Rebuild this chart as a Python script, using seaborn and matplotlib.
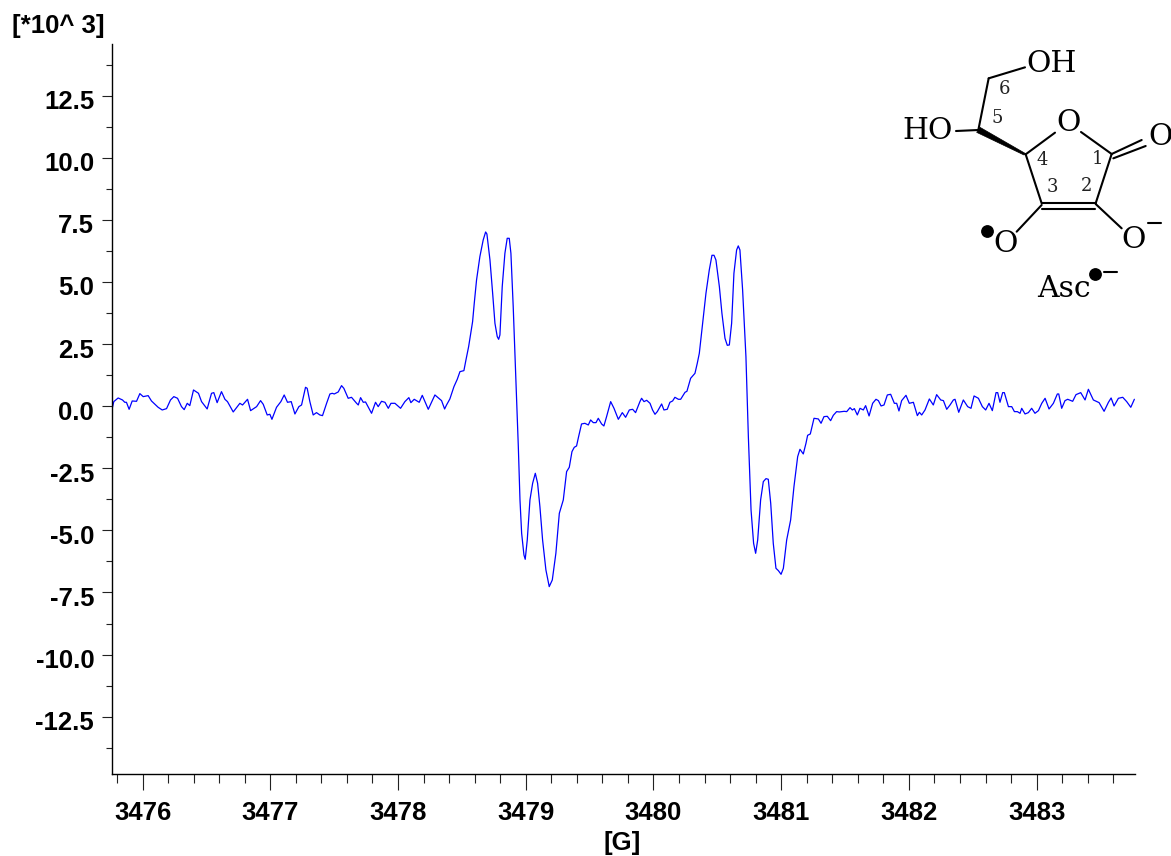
import numpy as np
import pandas as pd
import seaborn as sns
import matplotlib.pyplot as plt
from matplotlib.ticker import FixedLocator, MultipleLocator
from matplotlib.transforms import ScaledTranslation

# EPR spectrum: field in G, signal in units of 10^3
field_noise_left = [
    3475.760, 3475.775, 3475.809, 3475.843, 3475.861, 3475.874, 3475.895, 3475.919, 3475.953, 3475.979,
    3476.005, 3476.044, 3476.070, 3476.122, 3476.154, 3476.188, 3476.219, 3476.245, 3476.274, 3476.305,
    3476.326, 3476.350, 3476.370, 3476.399, 3476.438, 3476.462, 3476.506, 3476.540, 3476.558, 3476.584,
    3476.618, 3476.645, 3476.665, 3476.710, 3476.762, 3476.783, 3476.822, 3476.846, 3476.893, 3476.924,
    3476.945, 3476.976, 3476.997, 3477.013, 3477.049, 3477.083, 3477.109, 3477.135, 3477.164, 3477.193,
    3477.224, 3477.245, 3477.276, 3477.289, 3477.310, 3477.336, 3477.362, 3477.388, 3477.409, 3477.441,
    3477.467, 3477.485, 3477.501, 3477.532, 3477.558, 3477.576, 3477.610, 3477.636, 3477.676, 3477.689,
    3477.707, 3477.728, 3477.746, 3477.793, 3477.824, 3477.845, 3477.871, 3477.898, 3477.924, 3477.945,
    3477.976, 3478.020, 3478.054, 3478.085, 3478.101, 3478.127, 3478.166, 3478.190, 3478.237, 3478.289,
]
signal_noise_left = [
    -0.153, 0.183, 0.330, 0.250, 0.156, 0.156, -0.126, 0.209, 0.196, 0.505,
    0.384, 0.424, 0.209, -0.045, -0.153, -0.099, 0.250, 0.384, 0.317, -0.019,
    -0.139, 0.115, 0.022, 0.652, 0.518, 0.183, -0.112, 0.518, 0.545, 0.142,
    0.585, 0.277, 0.183, -0.233, 0.115, 0.048, 0.277, -0.180, -0.019, 0.223,
    0.075, -0.354, -0.327, -0.529, -0.045, 0.183, 0.451, 0.156, 0.183, -0.314,
    -0.019, 0.048, 0.760, 0.719, 0.183, -0.354, -0.260, -0.354, -0.381, 0.115,
    0.491, 0.518, 0.491, 0.572, 0.827, 0.719, 0.317, 0.357, 0.115, 0.048,
    0.344, 0.156, 0.169, -0.287, 0.156, -0.019, 0.196, 0.156, -0.086, 0.115,
    0.115, -0.086, 0.183, 0.344, 0.142, 0.277, 0.156, 0.437, -0.126, 0.451,
]
field_line_one = [
    3478.328, 3478.341, 3478.365, 3478.380, 3478.406, 3478.438, 3478.464, 3478.485, 3478.516, 3478.532,
    3478.553, 3478.584, 3478.597, 3478.615, 3478.641, 3478.667, 3478.686, 3478.696, 3478.720, 3478.741,
    3478.759, 3478.777, 3478.788, 3478.798, 3478.816, 3478.837, 3478.855, 3478.871, 3478.884, 3478.902,
    3478.923, 3478.942, 3478.955, 3478.968, 3478.986, 3478.996, 3479.012, 3479.033, 3479.054, 3479.075,
    3479.093, 3479.111, 3479.132, 3479.158, 3479.184, 3479.208, 3479.236, 3479.263, 3479.294, 3479.320,
    3479.341, 3479.362, 3479.380, 3479.398, 3479.414, 3479.437, 3479.463, 3479.490, 3479.508, 3479.529,
    3479.550, 3479.568, 3479.594, 3479.612, 3479.633, 3479.665, 3479.691, 3479.725, 3479.756, 3479.782,
    3479.811, 3479.837, 3479.860,
]
signal_line_one = [
    0.277, 0.223, -0.113, 0.048, 0.290, 0.786, 1.082, 1.390, 1.431, 1.860,
    2.397, 3.403, 4.141, 5.081, 6.020, 6.691, 7.013, 6.932, 5.886, 4.544,
    3.336, 2.799, 2.692, 2.867, 4.812, 6.154, 6.758, 6.758, 6.154, 4.007,
    1.055, -1.629, -3.776, -5.118, -5.990, -6.165, -5.386, -3.776, -3.105, -2.702,
    -3.105, -4.044, -5.386, -6.594, -7.265, -6.997, -5.923, -4.313, -3.776, -2.635,
    -2.461, -1.830, -1.656, -1.602, -1.226, -0.716, -0.690, -0.757, -0.555, -0.663,
    -0.663, -0.488, -0.716, -0.797, -0.421, 0.183, -0.086, -0.529, -0.260, -0.448,
    -0.153, -0.126, -0.260,
]
field_line_two = [
    3479.894, 3479.907, 3479.926, 3479.947, 3479.973, 3479.993, 3480.012, 3480.030, 3480.064, 3480.082,
    3480.108, 3480.129, 3480.150, 3480.168, 3480.195, 3480.213, 3480.247, 3480.262, 3480.291, 3480.325,
    3480.343, 3480.359, 3480.382, 3480.411, 3480.437, 3480.458, 3480.474, 3480.489, 3480.516, 3480.536,
    3480.560, 3480.578, 3480.594, 3480.612, 3480.630, 3480.651, 3480.664, 3480.677, 3480.698, 3480.724,
    3480.743, 3480.764, 3480.784, 3480.800, 3480.816, 3480.839, 3480.860, 3480.881, 3480.899, 3480.918,
    3480.938, 3480.959, 3480.978, 3480.999, 3481.017, 3481.043, 3481.074, 3481.100, 3481.129, 3481.147,
    3481.173, 3481.194, 3481.207, 3481.228, 3481.257, 3481.291, 3481.312, 3481.335, 3481.361, 3481.387,
    3481.408, 3481.434, 3481.455,
]
signal_line_two = [
    0.183, 0.317, 0.183, 0.236, 0.115, -0.153, -0.327, -0.220, 0.089, -0.153,
    -0.126, 0.156, 0.210, 0.357, 0.277, 0.277, 0.558, 0.599, 1.122, 1.323,
    1.726, 2.128, 3.202, 4.544, 5.483, 6.074, 6.074, 5.886, 4.812, 3.739,
    2.732, 2.450, 2.464, 3.336, 5.349, 6.288, 6.452, 6.288, 4.678, 1.994,
    -1.227, -4.179, -5.520, -5.923, -5.386, -3.776, -3.038, -2.917, -2.944, -3.910,
    -5.520, -6.527, -6.621, -6.769, -6.527, -5.386, -4.581, -3.239, -2.032, -1.736,
    -1.924, -1.495, -1.173, -1.119, -0.488, -0.515, -0.689, -0.421, -0.408, -0.583,
    -0.368, -0.220, -0.233,
]
field_noise_right = [
    3481.494, 3481.513, 3481.539, 3481.557, 3481.573, 3481.596, 3481.617, 3481.643, 3481.661, 3481.688,
    3481.716, 3481.742, 3481.761, 3481.782, 3481.805, 3481.831, 3481.857, 3481.886, 3481.904, 3481.922,
    3481.943, 3481.977, 3482.003, 3482.035, 3482.066, 3482.082, 3482.100, 3482.126, 3482.160, 3482.191,
    3482.217, 3482.249, 3482.270, 3482.296, 3482.322, 3482.348, 3482.361, 3482.390, 3482.426, 3482.460,
    3482.486, 3482.510, 3482.544, 3482.575, 3482.601, 3482.627, 3482.653, 3482.682, 3482.695, 3482.713,
    3482.734, 3482.747, 3482.779, 3482.805, 3482.826, 3482.849, 3482.870, 3482.883, 3482.909, 3482.935,
    3482.961, 3482.987, 3483.014, 3483.040, 3483.066, 3483.097, 3483.131, 3483.162, 3483.173, 3483.196,
    3483.222, 3483.243, 3483.282, 3483.308, 3483.345, 3483.379, 3483.405, 3483.444, 3483.489, 3483.528,
    3483.562, 3483.583, 3483.606, 3483.640, 3483.674, 3483.705, 3483.737, 3483.765,
]
signal_noise_right = [
    -0.207, -0.220, -0.059, -0.153, -0.099, -0.354, -0.086, -0.153, 0.022, -0.394,
    0.115, 0.277, 0.223, 0.008, 0.048, 0.451, 0.478, 0.115, 0.115, -0.193,
    0.223, 0.437, 0.115, 0.156, -0.381, -0.247, -0.354, -0.153, 0.290, 0.048,
    0.464, 0.250, 0.223, -0.126, 0.048, 0.250, 0.277, -0.247, 0.250, -0.019,
    -0.086, 0.411, 0.317, -0.019, -0.153, 0.115, -0.180, 0.545, 0.545, 0.156,
    0.545, 0.545, -0.019, -0.019, -0.220, -0.220, -0.287, -0.086, -0.314, -0.260,
    -0.086, -0.287, -0.180, 0.115, 0.317, -0.113, 0.115, 0.491, 0.491, -0.086,
    0.223, 0.277, 0.196, 0.464, 0.545, 0.250, 0.679, 0.250, 0.142, -0.207,
    0.156, 0.330, 0.008, 0.317, 0.357, 0.183, -0.045, 0.277,
]

x_ticks = [3476, 3477, 3478, 3479, 3480, 3481, 3482, 3483]
y_ticks = [12.5, 10.0, 7.5, 5.0, 2.5, 0.0, -2.5, -5.0, -7.5, -10.0, -12.5]
y_labels = ['12.5', '10.0', '7.5', '5.0', '2.5', '0.0', '-2.5', '-5.0', '-7.5', '-10.0', '-12.5']

sns.set_style('ticks')
plt.rcParams['font.family'] = 'Liberation Sans'
plt.rcParams['font.weight'] = 'bold'
plt.rcParams['text.color'] = 'black'

W, H = 1171, 856
fig = plt.figure(figsize=(W / 100, H / 100), dpi=100)
ax = fig.add_axes([111.5 / W, (H - 774.3) / H, (1135 - 111.5) / W, (774.3 - 44) / H])

df = pd.DataFrame({
    'field': field_noise_left + field_line_one + field_line_two + field_noise_right,
    'signal': signal_noise_left + signal_line_one + signal_line_two + signal_noise_right,
})
sns.lineplot(data=df, x='field', y='signal', ax=ax, color='#0000ff', linewidth=0.9,
             sort=False, estimator=None, errorbar=None)

ax.set_xlim(3475.757, 3483.77)
ax.set_ylim(-14.82, 14.58)
sns.despine(ax=ax)
for side in ['left', 'bottom']:
    ax.spines[side].set_linewidth(1.0)
    ax.spines[side].set_color('black')

ax.xaxis.set_major_locator(FixedLocator(x_ticks))
ax.xaxis.set_minor_locator(MultipleLocator(0.2))
ax.yaxis.set_major_locator(FixedLocator(y_ticks))
ax.yaxis.set_minor_locator(MultipleLocator(1.25))
ax.set_xticklabels([str(v) for v in x_ticks])
ax.set_yticklabels(y_labels)
ax.tick_params(axis='x', which='major', length=11.5, width=0.8, pad=8, labelsize=18.5, color='#222222', labelcolor='black')
ax.tick_params(axis='x', which='minor', length=6.2, width=0.8, color='#222222')
ax.tick_params(axis='y', which='major', length=7.5, width=0.8, pad=5, labelsize=18.5, color='#222222', labelcolor='black')
ax.tick_params(axis='y', which='minor', length=4, width=0.8, color='#222222')
ax.set_xlabel('')
ax.set_ylabel('')

# y labels sit a little under their ticks in the original
shift = ScaledTranslation(0, -4 / 100, fig.dpi_scale_trans)
for lab in ax.get_yticklabels():
    lab.set_transform(lab.get_transform() + shift)

fig.text(622 / W, 1 - 843 / H, '[G]', ha='center', va='center', fontsize=18.5, fontweight='bold')
fig.text(12 / W, 1 - 26 / H, '[*10^ 3]', ha='left', va='center', fontsize=18.5, fontweight='bold')

# ascorbate radical structure, drawn in its own axes
mol = fig.add_axes([880 / W, (H - 320) / H, 291 / W, 290 / H])
mol.set_xlim(0, 873)
mol.set_ylim(870, 0)
mol.axis('off')
bonds = [
    ((326, 145), (435, 112)), ((326, 145), (295, 300)), ((228, 303), (295, 300)),
    ((437, 373), (525, 308)), ((603, 306), (695, 372)), ((695, 372), (647, 520)),
    ((485, 520), (647, 520)), ((485, 537), (645, 537)), ((485, 520), (437, 373)),
    ((695, 372), (785, 330)), ((700, 385), (797, 348)),
    ((485, 525), (410, 605)), ((647, 522), (725, 595)),
]
for a, b in bonds:
    mol.plot([a[0], b[0]], [a[1], b[1]], color='black', lw=1.5, solid_capstyle='round')
mol.fill([290, 300, 437, 432], [307, 292, 371, 375], color='black', lw=0.5)

serif = 'DejaVu Serif'
for label, tx, ty in [('OH', 516, 103), ('HO', 143, 304), ('O', 565, 278), ('O', 842, 322),
                      ('O', 377, 643), ('O', 762, 631), ('Asc', 552, 776)]:
    mol.text(tx, ty, label, family=serif, fontweight='normal', fontsize=21.5, color='black', ha='center', va='center', clip_on=False)
for label, tx, ty in [('6', 375, 177), ('5', 351, 265), ('4', 487, 390), ('1', 652, 388), ('2', 620, 467), ('3', 518, 472)]:
    mol.text(tx, ty, label, family=serif, fontweight='normal', fontsize=13, color='#222222', ha='center', va='center')
mol.plot([320, 644], [603, 733], ls='none', marker='o', ms=8.2, color='black')
for x0, x1, y0 in [(803, 842, 578), (673, 712, 727)]:
    mol.plot([x0, x1], [y0, y0], color='black', lw=1.5)

fig.savefig('out.png', dpi=100)
